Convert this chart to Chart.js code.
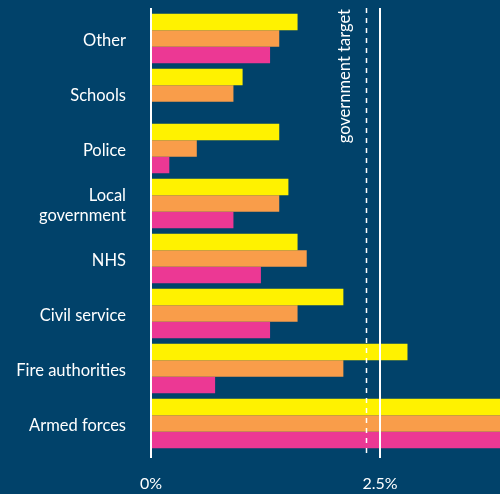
<!DOCTYPE html>
<html>
<head>
<meta charset="utf-8">
<script src="https://cdn.jsdelivr.net/npm/chart.js@4"></script>
<style>
  html, body { margin: 0; padding: 0; background: #01426a; }
  #wrap { width: 500px; height: 494px; position: relative; }
</style>
</head>
<body>
<div id="wrap"><canvas id="payChart" width="500" height="494"></canvas></div>
<script>
const categories = ["Other", "Schools", "Police", ["Local", "government"], "NHS", "Civil service", "Fire authorities", "Armed forces"];
const seriesYellow = [1.6, 1.0, 1.4, 1.5, 1.6, 2.1, 2.8, 4.0];
const seriesOrange = [1.4, 0.9, 0.5, 1.4, 1.7, 1.6, 2.1, 4.0];
const seriesPink   = [1.3, 0,   0.2, 0.9, 1.2, 1.3, 0.7, 4.0];
const tickValues = [0, 2.5];
const targetValue = 2.35;
const targetLabel = "government target";

const fontFamily = "Lato, 'Noto Sans', sans-serif";

// vertical reference lines + target label
const refLines = {
  id: "refLines",
  afterDatasetsDraw(chart) {
    const ctx = chart.ctx;
    const x = chart.scales.x;
    const area = chart.chartArea;
    ctx.save();
    ctx.strokeStyle = "#ffffff";
    ctx.lineWidth = 2;
    for (const v of tickValues) {
      const px = Math.round(x.getPixelForValue(v));
      ctx.beginPath();
      ctx.moveTo(px, area.top - 3);
      ctx.lineTo(px, area.bottom + 7);
      ctx.stroke();
    }
    const tx = Math.round(x.getPixelForValue(targetValue)) + 0.5;
    ctx.lineWidth = 1.5;
    ctx.setLineDash([5, 5]);
    ctx.beginPath();
    ctx.moveTo(tx, area.top - 3);
    ctx.lineTo(tx, area.bottom + 7);
    ctx.stroke();
    ctx.setLineDash([]);

    ctx.translate(tx - 22, area.top - 2);
    ctx.rotate(-Math.PI / 2);
    ctx.fillStyle = "#ffffff";
    ctx.font = "16.5px " + fontFamily;
    ctx.textAlign = "right";
    ctx.textBaseline = "middle";
    ctx.fillText(targetLabel, 0, 0);
    ctx.restore();
  }
};

const ctx = document.getElementById("payChart").getContext("2d");
new Chart(ctx, {
  type: "bar",
  data: {
    labels: categories,
    datasets: [
      { label: "Yellow", data: seriesYellow, backgroundColor: "#fff200" },
      { label: "Orange", data: seriesOrange, backgroundColor: "#f99d4a" },
      { label: "Pink", data: seriesPink, backgroundColor: "#ec3894" }
    ]
  },
  options: {
    indexAxis: "y",
    responsive: false,
    animation: false,
    layout: { padding: { top: 11, right: 0, bottom: 0, left: 0 } },
    datasets: { bar: { categoryPercentage: 0.9, barPercentage: 1.0 } },
    plugins: {
      legend: { display: false },
      tooltip: { enabled: false }
    },
    scales: {
      x: {
        min: 0,
        max: 3.81,
        grid: { display: false, drawTicks: false },
        border: { display: false },
        afterBuildTicks(scale) {
          scale.ticks = tickValues.map(v => ({ value: v }));
        },
        afterFit(scale) {
          scale.height = 43;
          scale.paddingLeft = 0;
          scale.paddingRight = 0;
        },
        ticks: {
          color: "#ffffff",
          padding: 23,
          font: { family: fontFamily, size: 16 },
          maxRotation: 0,
          callback: v => (v === 0 ? "0%" : v + "%")
        }
      },
      y: {
        grid: { display: false, drawTicks: false },
        border: { display: false },
        afterFit(scale) {
          scale.width = 151;
          scale.paddingTop = 0;
          scale.paddingBottom = 0;
        },
        ticks: {
          color: "#ffffff",
          padding: 25,
          labelOffset: 2,
          font: { family: fontFamily, size: 16.5 }
        }
      }
    }
  },
  plugins: [refLines]
});
</script>
</body>
</html>
